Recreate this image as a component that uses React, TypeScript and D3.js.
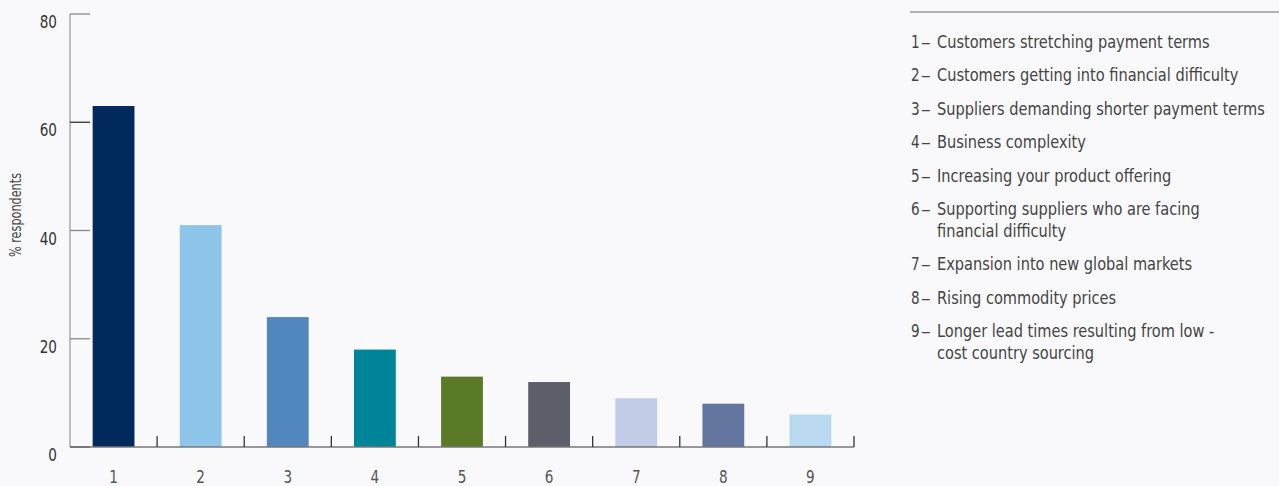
import React, { useEffect } from "react";
import * as d3 from "d3";

const categories = ["1", "2", "3", "4", "5", "6", "7", "8", "9"];
const values = [63, 41, 24, 18, 13, 12, 9, 8, 6];
const barColors = ["#002a5c", "#8dc5eb", "#5286bf", "#00849a", "#5a7a28", "#5c5f6a", "#c2cce6", "#62769f", "#b9d9f1"];
const yTicks = [0, 20, 40, 60, 80];
const legendItems: string[][] = [
  ["Customers stretching payment terms"],
  ["Customers getting into financial difficulty"],
  ["Suppliers demanding shorter payment terms"],
  ["Business complexity"],
  ["Increasing your product offering"],
  ["Supporting suppliers who are facing", "financial difficulty"],
  ["Expansion into new global markets"],
  ["Rising commodity prices"],
  ["Longer lead times resulting from low -", "cost country sourcing"],
];

const W = 1279;
const H = 486;
const FONT = "'DejaVu Sans Condensed', 'Liberation Sans Narrow', sans-serif";

function T({ x, y, sx = 0.88, anchor = "start", size = 18, fill = "#444", children }: any) {
  return (
    <text transform={`translate(${x},${y}) scale(${sx},1)`} textAnchor={anchor} fontSize={size} fill={fill}>
      {children}
    </text>
  );
}

export default function App() {
  useEffect(() => {
    document.body.style.margin = "0";
  }, []);

  const x = d3.scaleBand<string>().domain(categories).range([70, 854]).paddingInner(0.52).paddingOuter(0.26);
  const y = d3.scaleLinear().domain([0, 80]).range([447, 14]);
  const bandStep = x.step();
  const x0 = 70;

  let cursor = 48;
  const legendLines: { num?: string; text: string; y: number }[] = [];
  legendItems.forEach((lines, i) => {
    lines.forEach((t, j) => {
      legendLines.push({ num: j === 0 ? `${i + 1}` : undefined, text: t, y: cursor + j * 22 });
    });
    cursor += 33.4 + (lines.length - 1) * 22;
  });

  return (
    <svg width={W} height={H} style={{ display: "block", position: "absolute", left: 0, top: 0 }} fontFamily={FONT}>
      <rect x={0} y={0} width={W} height={H} fill="#f9f9fb" />
      <line x1={70} x2={70} y1={y(80)} y2={y(0)} stroke="#a8a8a8" strokeWidth={1.5} />
      {yTicks.map((t) => (
        <g key={t}>
          <line x1={70} x2={90} y1={y(t)} y2={y(t)} stroke={t === 0 || t === 60 ? "#333" : "#888"} strokeWidth={1.3} />
          <T x={57} y={y(t) + 14} anchor="end" size={18} fill="#333" sx={0.84}>
            {t}
          </T>
        </g>
      ))}
      <text transform={`translate(21,215) rotate(-90)`} textAnchor="middle" fontSize={16.5} fill="#444" textLength={84} lengthAdjust="spacingAndGlyphs">
        % respondents
      </text>
      {categories.map((c, i) => (
        <rect key={c} x={x(c)} y={y(values[i])} width={x.bandwidth()} height={y(0) - y(values[i])} fill={barColors[i]} />
      ))}
      <line x1={70} x2={854} y1={y(0)} y2={y(0)} stroke="#777" strokeWidth={1.3} />
      {categories.map((c, i) => (
        <line key={"t" + c} x1={x0 + bandStep * (i + 1)} x2={x0 + bandStep * (i + 1)} y1={y(0)} y2={y(0) - 11} stroke="#333" strokeWidth={1.3} />
      ))}
      {categories.map((c) => (
        <T key={"l" + c} x={(x(c) as number) + x.bandwidth() / 2} y={483} anchor="middle" size={18} fill="#555" sx={0.84}>
          {c}
        </T>
      ))}
      <line x1={910} x2={W} y1={12} y2={12} stroke="#999" strokeWidth={1.3} />
      {legendLines.map((l, i) => (
        <g key={i}>
          {l.num && (
            <>
              <T x={911} y={l.y} size={18} fill="#444" sx={0.84}>
                {l.num}
              </T>
              <T x={921} y={l.y} size={18} fill="#444" sx={1.2}>
                –
              </T>
            </>
          )}
          <T x={937} y={l.y} size={18} fill="#444" sx={0.9}>
            {l.text}
          </T>
        </g>
      ))}
    </svg>
  );
}
